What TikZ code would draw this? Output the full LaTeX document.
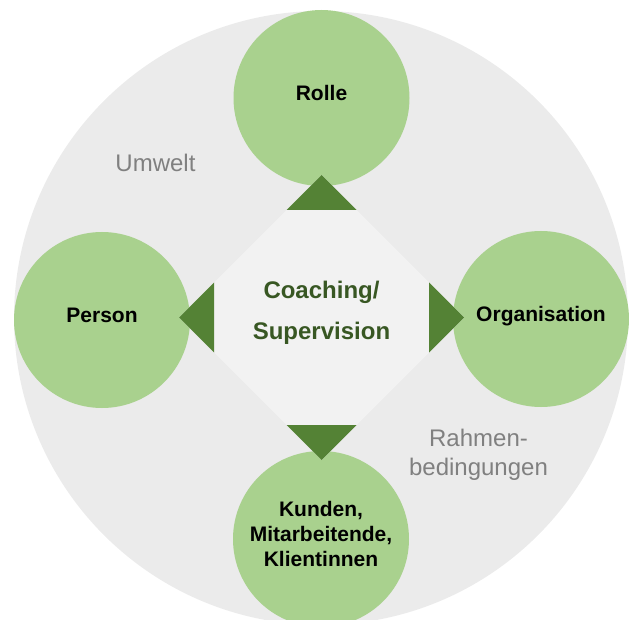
\documentclass[tikz,border=0pt]{standalone}
\usepackage{fontspec}
\setmainfont{Liberation Sans}
\definecolor{umweltgrau}{RGB}{235,235,235}
\definecolor{rautengrau}{RGB}{242,242,242}
\definecolor{hellgruen}{RGB}{169,209,142}
\definecolor{dunkelgruen}{RGB}{84,130,53}
\definecolor{textgruen}{RGB}{56,87,35}
\definecolor{textgrau}{RGB}{128,128,128}

\begin{document}
\begin{tikzpicture}[x=1pt,y=-1pt,
  kreis/.style={circle,fill=hellgruen,minimum size=176pt,inner sep=0pt,
    align=center,text depth=10pt,font=\fontsize{21}{25}\selectfont\bfseries},
  spitze/.style={fill=dunkelgruen},
  grautext/.style={text=textgrau,align=center,font=\fontsize{24}{29}\selectfont}]
  \clip (0,0) rectangle (629,620);
  % Umwelt, outer circle
  \fill[umweltgrau] (321,318) circle[radius=307];
  \node[grautext] (U)  at (155.5,163) {Umwelt};
  \node[grautext] (RB) at (478.5,454.5) {Rahmen-\\bedingungen};
  % the four circles
  \node[kreis] (R) at (321.5,98)  {Rolle};
  \node[kreis] (P) at (102,320)   {Person};
  \node[kreis] (O) at (541,319)   {Organisation};
  \node[kreis] (K) at (321,539)   {Kunden,\\Mitarbeitende,\\Klientinnen};
  % diamond in the middle with its green tips
  \coordinate (M) at (321.5,317.5);
  \fill[rautengrau] (M) ++(0,-142.5) -- ++(142.5,142.5) -- ++(-142.5,142.5) -- ++(-142.5,-142.5) -- cycle;
  \fill[spitze] (M) ++(0,-142.5) -- ++(35,35) -- ++(-70,0) -- cycle;
  \fill[spitze] (M) ++(142.5,0) -- ++(-35,-35) -- ++(0,70) -- cycle;
  \fill[spitze] (M) ++(0,142.5) -- ++(35,-35) -- ++(-70,0) -- cycle;
  \fill[spitze] (M) ++(-142.5,0) -- ++(35,-35) -- ++(0,70) -- cycle;
  \node[text=textgruen,align=center,font=\fontsize{24}{41}\selectfont\bfseries]
    (CS) at (321.5,313) {Coaching/\\Supervision};
\end{tikzpicture}
\end{document}
